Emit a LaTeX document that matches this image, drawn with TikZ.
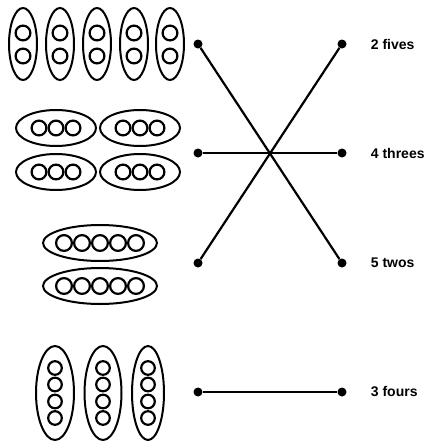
\documentclass[tikz,border=0pt]{standalone}
\usepackage{fontspec}
\setmainfont{Liberation Sans}
\usetikzlibrary{positioning}
\tikzset{
  grupo/.style={draw, line width=2pt},
  bola/.style={draw, line width=2.2pt},
  punto/.style={circle, fill, inner sep=0pt, minimum size=9pt},
  enlace/.style={line width=2.2pt},
  etq/.style={font=\fontsize{14}{16}\selectfont\bfseries, right=24pt of #1, inner sep=0pt},
}

\begin{document}
\begin{tikzpicture}[x=1pt, y=-1pt]
  \useasboundingbox (0,0) rectangle (429,442);
  % fives
  \foreach \x in {23,60,97,134,170} {
    \draw[grupo] (\x,44) ellipse (14 and 36);
    \foreach \dy in {-11,12} \draw[bola] (\x,44+\dy) circle (7.4);
  }
  % threes
  \foreach \x/\y in {56/128, 140/128, 56/172, 140/172} {
    \draw[grupo] (\x,\y) ellipse (40 and 18);
    \foreach \dx in {-17,0,17} \draw[bola] (\x+\dx,\y) circle (7.4);
  }
  % twos
  \foreach \y in {243,286} {
    \draw[grupo] (100,\y) ellipse (57 and 18);
    \foreach \dx in {-36,-18,0,18,36} \draw[bola] (100+\dx,\y) circle (7.9);
  }
  % fours
  \foreach \x/\rx in {55/19,103/18.5,148/16} {
    \draw[grupo] (\x,393) ellipse [x radius=\rx, y radius=47];
    \foreach \dy in {-25,-8.5,8.5,25} \draw[bola] (\x,393+\dy) circle (6.8);
  }
  % dots
  \node[punto] (l1) at (198,44) {};
  \node[punto] (l2) at (198,153) {};
  \node[punto] (l3) at (198,263) {};
  \node[punto] (l4) at (198,392) {};
  \node[punto] (r1) at (342,44) {};
  \node[punto] (r2) at (342,153) {};
  \node[punto] (r3) at (342,263) {};
  \node[punto] (r4) at (342,392) {};
  \node[etq=r1] (t1) {2 fives};
  \node[etq=r2] (t2) {4 threes};
  \node[etq=r3] (t3) {5 twos};
  \node[etq=r4] (t4) {3 fours};
  \draw[enlace] (l1) -- (r3);
  \draw[enlace] (l2) -- (r2);
  \draw[enlace] (l3) -- (r1);
  \draw[enlace] (l4) -- (r4);
\end{tikzpicture}
\end{document}
